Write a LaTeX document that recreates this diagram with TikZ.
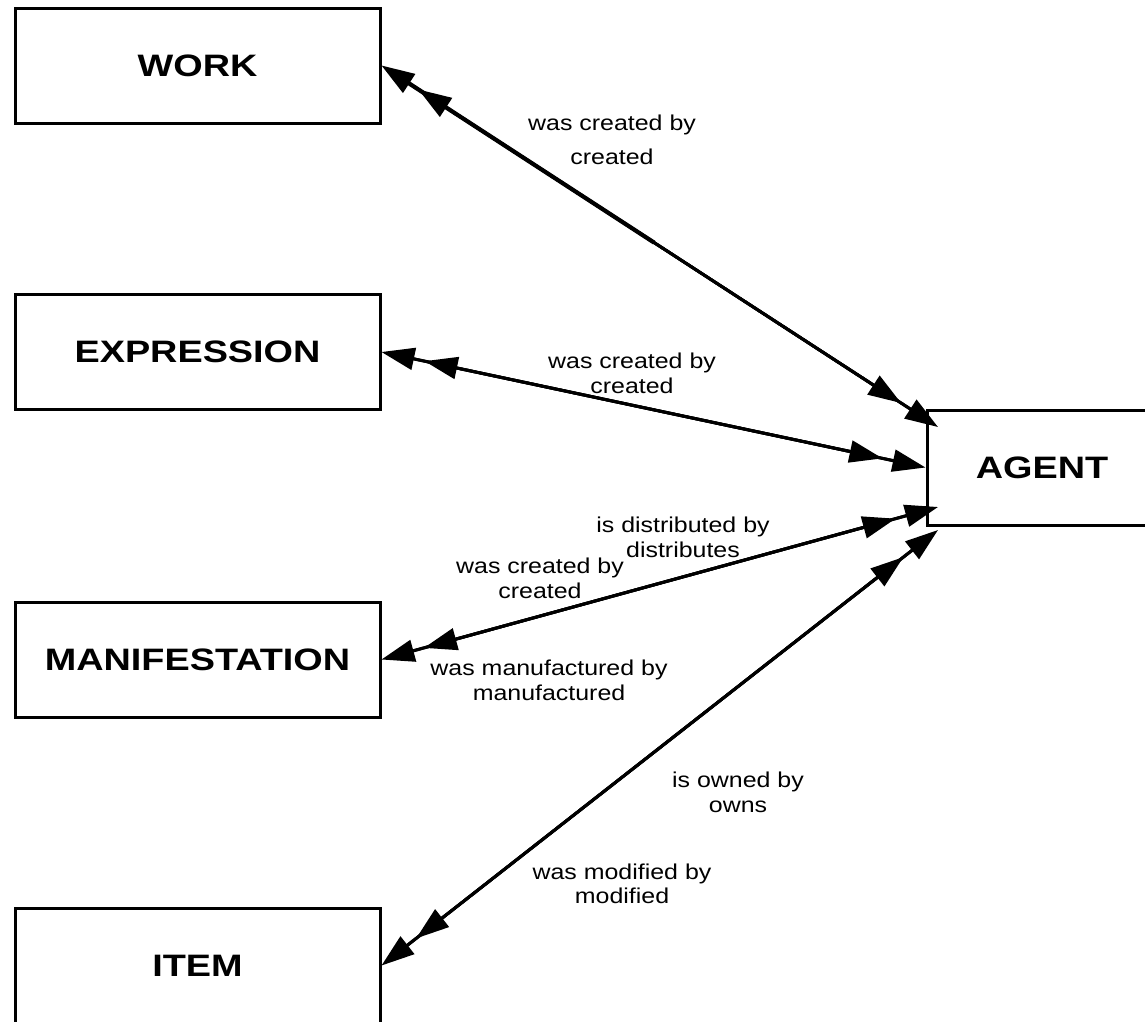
\documentclass[tikz,border=0pt]{standalone}
\usepackage{fontspec}
\setmainfont{Liberation Sans}
\newfontfamily\lblfont{Liberation Sans}[FakeStretch=1.16]
\newfontfamily\boxfont{Liberation Sans}[FakeStretch=1.22]
\usetikzlibrary{arrows.meta,calc}
\begin{document}
\begin{tikzpicture}[x=1pt,y=-1pt,
  ent/.style={draw, line width=3pt, minimum width=365pt, minimum height=115pt,
    inner sep=0pt, font=\boxfont\bfseries\fontsize{31}{36}\selectfont},
  lbl/.style={anchor=base, inner sep=0pt, font=\lblfont\fontsize{21.5}{26}\selectfont},
  conn/.style={line width=3pt},
  tri/.style={arrows={Triangle[length=33pt 0,width=22pt 0]-Triangle[length=33pt 0,width=22pt 0]}},
  inner/.style={tri, shorten <=44pt, shorten >=44pt},
  body/.style={conn, shorten <=7pt, shorten >=7pt}
]
\useasboundingbox (0,0) rectangle (1145,1021);
\fill[white] (0,0) rectangle (1145,1021);
\clip (0,0) rectangle (1145,1021);

% entities
\node[ent] (work)  at (197.5,65.5)  {WORK};
\node[ent] (expr)  at (197.5,352)   {EXPRESSION};
\node[ent] (manif) at (197.5,659.5) {MANIFESTATION};
\node[ent] (item)  at (197.5,965.5) {ITEM};
\node[ent, minimum width=230pt] (agent) at (1042,467.5) {AGENT};

% connector ends on AGENT
\coordinate (a1) at ([shift={(12.5pt,-18.5pt)}]agent.north west);
\coordinate (a2) at (agent.west);
\coordinate (a3) at ([shift={(12.5pt,19.5pt)}]agent.south west);
\coordinate (a4) at ([shift={(12.5pt,-3.5pt)}]agent.south west);

% connectors
\draw[body] (work.east) -- (a1);
\draw[line width=4.2pt,shorten <=8pt] (work.east) -- ($(work.east)!0.49!(a1)$);
\draw[conn,tri] (work.east) -- (a1);
\draw[conn,inner] (work.east) -- (a1);

\draw[body] (expr.east) -- (a2);
\draw[conn,tri] (expr.east) -- (a2);
\draw[conn,inner] (expr.east) -- (a2);

\draw[body] (manif.east) -- (a3);
\draw[conn,tri] (manif.east) -- (a3);
\draw[conn,inner] (manif.east) -- (a3);

\draw[body] (item.east) -- (a4);
\draw[conn,tri] (item.east) -- (a4);
\draw[conn,inner] (item.east) -- (a4);

% labels
\node[lbl] (w1) at (612,130) {was created by};
\node[lbl] (w2) at (612,164) {created};
\node[lbl] (e1) at (632,368) {was created by};
\node[lbl] (e2) at (632,393) {created};
\node[lbl] (m1) at (683,532) {is distributed by};
\node[lbl] (m2) at (683,557) {distributes};
\node[lbl] (m3) at (540,573) {was created by};
\node[lbl] (m4) at (540,598) {created};
\node[lbl] (m5) at (549,675) {was manufactured by};
\node[lbl] (m6) at (549,700) {manufactured};
\node[lbl] (i1) at (738,787) {is owned by};
\node[lbl] (i2) at (738,812) {owns};
\node[lbl] (i3) at (622,879) {was modified by};
\node[lbl] (i4) at (622,903) {modified};
\end{tikzpicture}
\end{document}
